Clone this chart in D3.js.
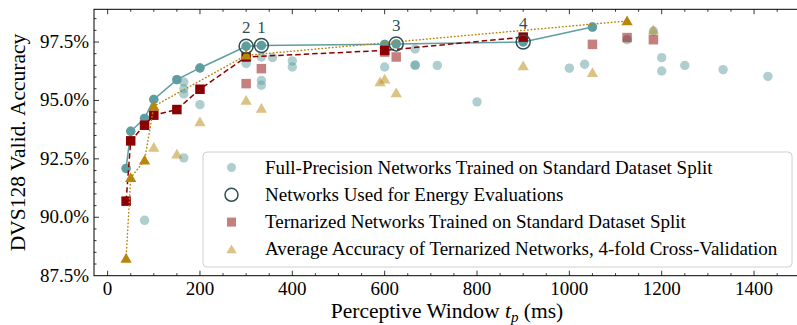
<!DOCTYPE html>
<html>
<head>
<meta charset="utf-8">
<script src="https://cdn.jsdelivr.net/npm/d3@7"></script>
<style>
  body { margin: 0; background: #fff; }
  svg text { font-family: "Liberation Serif", "DejaVu Serif", serif; }
</style>
</head>
<body>
<script>

// global variables
var w = 797;
var h = 325;

var chartPad = {
  top: 9.3,
  bottom: 49.3,
  left: 94,
  right: -3
};

// full precision networks, all runs [perceptive window (ms), accuracy (%)]
var fullPrecision = [
  [40, 92.09], [50, 93.68], [80, 94.23], [80, 89.87], [100, 95.04],
  [150, 95.89], [165, 95.79], [165, 95.5], [165, 95.28], [165, 92.54],
  [200, 96.39], [200, 94.82], [300, 97.32], [300, 96.58], [333, 97.35],
  [333, 96.86], [333, 95.86], [333, 95.65], [357, 96.83], [400, 96.69],
  [400, 96.43], [600, 97.4], [600, 96.43], [625, 97.42], [666, 97.2],
  [666, 96.5], [666, 96.52], [714, 96.5], [800, 94.94], [900, 97.5],
  [1000, 96.38], [1033, 96.55], [1050, 98.14], [1125, 97.6], [1182, 97.97],
  [1200, 96.83], [1200, 96.26], [1250, 96.5], [1333, 96.32], [1430, 96.03]
];

// best full precision networks (solid line)
var fullFront = [
  [40, 92.09], [50, 93.68], [80, 94.23], [100, 95.04], [150, 95.89],
  [200, 96.39], [300, 97.32], [333, 97.35], [600, 97.4], [625, 97.42],
  [900, 97.5], [1050, 98.14]
];

// networks used for energy evaluations + their labels
var energyNets = [[300, 97.32], [333, 97.35], [625, 97.42], [900, 97.5]];
var energyLabels = ["2", "1", "3", "4"];

// ternarized networks, all runs
var ternary = [
  [300, 95.72], [333, 96.36], [600, 97.07], [625, 96.86],
  [1050, 97.4], [1125, 97.69], [1182, 97.6]
];

// best ternarized networks (dashed line)
var ternaryFront = [
  [40, 90.69], [50, 93.27], [80, 93.94], [100, 94.37], [150, 94.61],
  [200, 95.48], [300, 96.86], [600, 97.14], [900, 97.71]
];

// cross validation averages, all runs
var crossVal = [
  [100, 92.99], [150, 92.7], [200, 94.08], [300, 95.0], [333, 94.65],
  [590, 95.79], [600, 95.91], [625, 95.32], [900, 96.47], [1050, 96.18],
  [1182, 98.0]
];

// best cross validation averages (dotted line)
var crossFront = [
  [40, 88.24], [50, 91.69], [80, 92.44], [100, 94.75], [300, 96.93],
  [1125, 98.4]
];

var legendLabels = [
  "Full-Precision Networks Trained on Standard Dataset Split",
  "Networks Used for Energy Evaluations",
  "Ternarized Networks Trained on Standard Dataset Split",
  "Average Accuracy of Ternarized Networks, 4-fold Cross-Validation"
];

var xTicks = [0, 200, 400, 600, 800, 1000, 1200, 1400];
var yTicks = [87.5, 90.0, 92.5, 95.0, 97.5];

// colors
var teal = "#5f9ea0";
var red = "#8b0000";
var gold = "#b8860b";
var slate = "#2f4f4f";


window.onload = function() {

  var svg = d3.select("body")
              .append("svg")
              .attr("width", w)
              .attr("height", h);

  var xScale = d3.scaleLinear()
                 .domain([-29.5, 1499.5])
                 .range([chartPad.left, w - chartPad.right]);

  var yScale = d3.scaleLinear()
                 .domain([87.5, 98.9])
                 .range([h - chartPad.bottom, chartPad.top]);

  drawAxes(svg, xScale, yScale);

  var plot = svg.append("g");

  // light scatter points first
  drawCircles(plot, fullPrecision, xScale, yScale, teal, 0.5);
  drawSquares(plot, ternary, xScale, yScale, red, 0.5);
  drawTriangles(plot, crossVal, xScale, yScale, gold, 0.5);

  // the front lines
  drawLine(plot, fullFront, xScale, yScale, teal, null);
  drawCircles(plot, fullFront, xScale, yScale, teal, 1);

  drawLine(plot, ternaryFront, xScale, yScale, red, "5.5,3");
  drawSquares(plot, ternaryFront, xScale, yScale, red, 1);

  drawLine(plot, crossFront, xScale, yScale, gold, "0.5,3");
  drawTriangles(plot, crossFront, xScale, yScale, gold, 1);

  // energy evaluation networks
  plot.selectAll(".energy")
      .data(energyNets)
      .enter()
      .append("circle")
      .attr("class", "energy")
      .attr("cx", function(d) { return xScale(d[0]); })
      .attr("cy", function(d) { return yScale(d[1]); })
      .attr("r", 7)
      .attr("fill", "none")
      .attr("stroke", slate)
      .attr("stroke-width", 1.5);

  plot.selectAll(".energyLabel")
      .data(energyNets)
      .enter()
      .append("text")
      .attr("class", "energyLabel")
      .attr("x", function(d) { return xScale(d[0]); })
      .attr("y", function(d) { return yScale(d[1]) - 13; })
      .attr("text-anchor", "middle")
      .attr("font-size", "17px")
      .attr("fill", slate)
      .text(function(d, i) { return energyLabels[i]; });

  drawLegend(svg, xScale, yScale);

};


function drawAxes(svg, xScale, yScale) {
  var x0 = chartPad.left;
  var x1 = w - chartPad.right;
  var y0 = h - chartPad.bottom;
  var y1 = chartPad.top;

  var xMinor = d3.range(0, 1500, 50);
  var yMinor = d3.range(88, 98.9, 0.5);

  var ticks = svg.append("g")
                 .attr("stroke", "black")
                 .attr("stroke-width", 0.8);

  // x ticks, bottom and top, pointing inwards
  xMinor.forEach(function(v) {
    var len = (v % 200 == 0) ? 5 : 2.5;
    ticks.append("line")
         .attr("x1", xScale(v)).attr("x2", xScale(v))
         .attr("y1", y0).attr("y2", y0 - len);
    ticks.append("line")
         .attr("x1", xScale(v)).attr("x2", xScale(v))
         .attr("y1", y1).attr("y2", y1 + len);
  });

  // y ticks, left side
  yMinor.forEach(function(v) {
    var major = Math.abs(v / 2.5 - Math.round(v / 2.5)) < 0.01;
    var len = major ? 5 : 2.5;
    ticks.append("line")
         .attr("x1", x0).attr("x2", x0 + len)
         .attr("y1", yScale(v)).attr("y2", yScale(v));
  });

  // frame
  svg.append("rect")
     .attr("x", x0)
     .attr("y", y1)
     .attr("width", x1 - x0)
     .attr("height", y0 - y1)
     .attr("fill", "none")
     .attr("stroke", "black")
     .attr("stroke-width", 1);

  // tick labels
  svg.selectAll(".xlab")
     .data(xTicks)
     .enter()
     .append("text")
     .attr("class", "xlab")
     .attr("x", function(d) { return xScale(d); })
     .attr("y", y0 + 19)
     .attr("text-anchor", "middle")
     .attr("font-size", "19px")
     .text(function(d) { return d; });

  svg.selectAll(".ylab")
     .data(yTicks)
     .enter()
     .append("text")
     .attr("class", "ylab")
     .attr("x", x0 - 5)
     .attr("y", function(d) { return yScale(d) + 6; })
     .attr("text-anchor", "end")
     .attr("font-size", "19px")
     .text(function(d) { return d.toFixed(1) + "%"; });

  // x-axis label
  var xl = svg.append("text")
              .attr("x", (x0 + x1) / 2)
              .attr("y", 318)
              .attr("text-anchor", "middle")
              .attr("font-size", "21.5px");
  xl.append("tspan").text("Perceptive Window ");
  xl.append("tspan").attr("font-style", "italic").text("t");
  xl.append("tspan").attr("font-style", "italic").attr("font-size", "15px")
    .attr("dy", 4).text("p");
  xl.append("tspan").attr("dy", -4).text(" (ms)");

  // y-axis label
  svg.append("text")
     .attr("transform", "translate(25," + ((y0 + y1) / 2) + ") rotate(-90)")
     .attr("text-anchor", "middle")
     .attr("font-size", "21.5px")
     .text("DVS128 Valid. Accuracy");
}


function drawCircles(g, data, xScale, yScale, color, alpha) {
  g.append("g")
   .selectAll("circle")
   .data(data)
   .enter()
   .append("circle")
   .attr("cx", function(d) { return xScale(d[0]); })
   .attr("cy", function(d) { return yScale(d[1]); })
   .attr("r", 4.7)
   .attr("fill", color)
   .attr("fill-opacity", alpha);
}


function drawSquares(g, data, xScale, yScale, color, alpha) {
  var s = 9.5;
  g.append("g")
   .selectAll("rect")
   .data(data)
   .enter()
   .append("rect")
   .attr("x", function(d) { return xScale(d[0]) - s / 2; })
   .attr("y", function(d) { return yScale(d[1]) - s / 2; })
   .attr("width", s)
   .attr("height", s)
   .attr("fill", color)
   .attr("fill-opacity", alpha);
}


function drawTriangles(g, data, xScale, yScale, color, alpha) {
  var tri = d3.symbol().type(d3.symbolTriangle).size(55);
  g.append("g")
   .selectAll("path")
   .data(data)
   .enter()
   .append("path")
   .attr("d", tri)
   .attr("transform", function(d) {
       return "translate(" + xScale(d[0]) + "," + (yScale(d[1]) + 1) + ")";
   })
   .attr("fill", color)
   .attr("fill-opacity", alpha);
}


function drawLine(g, data, xScale, yScale, color, dash) {
  var line = d3.line()
               .x(function(d) { return xScale(d[0]); })
               .y(function(d) { return yScale(d[1]); });

  g.append("path")
   .datum(data)
   .attr("d", line)
   .attr("fill", "none")
   .attr("stroke", color)
   .attr("stroke-width", 1.5)
   .attr("stroke-linecap", dash == "0.5,3" ? "round" : "butt")
   .attr("stroke-dasharray", dash);
}


function drawLegend(svg, xScale, yScale) {
  var lx = 203;
  var ly = 152;

  svg.append("rect")
     .attr("x", lx)
     .attr("y", ly)
     .attr("width", 589)
     .attr("height", 115)
     .attr("rx", 4)
     .attr("fill", "white")
     .attr("fill-opacity", 0.8)
     .attr("stroke", "#d0d0d0")
     .attr("stroke-width", 1);

  var rows = legendLabels.map(function(d, i) {
    return { label: d, y: ly + 15.5 + i * 27.3 };
  });

  var mx = 231.5;

  // markers
  svg.append("circle")
     .attr("cx", mx).attr("cy", rows[0].y).attr("r", 4.5)
     .attr("fill", teal).attr("fill-opacity", 0.5);

  svg.append("circle")
     .attr("cx", mx).attr("cy", rows[1].y).attr("r", 6.5)
     .attr("fill", "none").attr("stroke", slate).attr("stroke-width", 1.5);

  svg.append("rect")
     .attr("x", mx - 4.5).attr("y", rows[2].y - 4.5)
     .attr("width", 9).attr("height", 9)
     .attr("fill", red).attr("fill-opacity", 0.5);

  svg.append("path")
     .attr("d", d3.symbol().type(d3.symbolTriangle).size(45))
     .attr("transform", "translate(" + mx + "," + (rows[3].y + 1) + ")")
     .attr("fill", gold).attr("fill-opacity", 0.5);

  svg.selectAll(".legText")
     .data(rows)
     .enter()
     .append("text")
     .attr("class", "legText")
     .attr("x", 265)
     .attr("y", function(d) { return d.y + 6; })
     .attr("font-size", "19px")
     .text(function(d) { return d.label; });
}

</script>
</body>
</html>
